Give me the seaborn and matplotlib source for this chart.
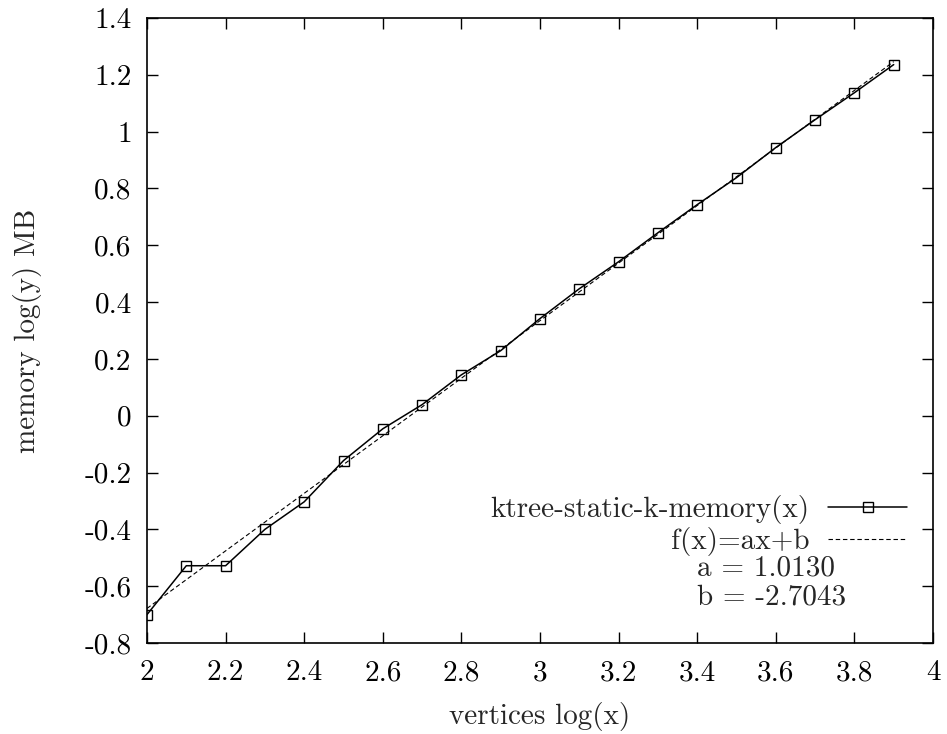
# ----- libraries
import matplotlib
matplotlib.use("Agg")
import matplotlib.pyplot as plt
import numpy as np
import pandas as pd
import seaborn as sns

# ----- data
vertices_log = [2.0, 2.1, 2.2, 2.3, 2.4, 2.5, 2.6, 2.7, 2.8, 2.9,
                3.0, 3.1, 3.2, 3.3, 3.4, 3.5, 3.6, 3.7, 3.8, 3.9]
memory_log = [-0.700, -0.528, -0.528, -0.400, -0.303, -0.158, -0.046, 0.039, 0.144, 0.229,
              0.342, 0.447, 0.542, 0.644, 0.743, 0.838, 0.944, 1.042, 1.137, 1.236]
fit_a = 1.0130
fit_b = -2.7043
fit_x = [2.0, 3.9]
x_ticks = [2, 2.2, 2.4, 2.6, 2.8, 3, 3.2, 3.4, 3.6, 3.8, 4]
y_ticks = [-0.8, -0.6, -0.4, -0.2, 0, 0.2, 0.4, 0.6, 0.8, 1, 1.2, 1.4]

FS = 21


def fmt(v):
    s = "{:g}".format(round(v, 2))
    return s


# ----- main
def draw():
    sns.set_theme(style="ticks")
    plt.rcParams['font.family'] = ['cmr10', 'DejaVu Serif']
    plt.rcParams['axes.unicode_minus'] = False
    plt.rcParams['mathtext.fontset'] = 'cm'

    fig = plt.figure(figsize=(9.47, 7.34), dpi=100)
    ax = fig.add_axes([147 / 947, 1 - 643 / 734, (933 - 147) / 947, (643 - 18) / 734])

    data = pd.DataFrame({"x": vertices_log, "y": memory_log})
    fit = pd.DataFrame({"x": fit_x, "y": [fit_a * v + fit_b for v in fit_x]})

    sns.lineplot(data=data, x="x", y="y", ax=ax, color="black", linewidth=1.1,
                 marker="s", markersize=7, markerfacecolor="none",
                 markeredgecolor="black", markeredgewidth=1.0,
                 label="ktree-static-k-memory(x)")
    sns.lineplot(data=fit, x="x", y="y", ax=ax, color="black", linewidth=0.8,
                 linestyle=(0, (4, 2.5)), label="f(x)=ax+b")

    ax.set_xlim(2, 4)
    ax.set_ylim(-0.8, 1.4)
    ax.set_xticks(x_ticks)
    ax.set_yticks(y_ticks)
    ax.set_xticklabels([fmt(v) for v in x_ticks])
    ax.set_yticklabels([fmt(v) for v in y_ticks])
    ax.tick_params(direction="in", length=8, width=1, top=True, right=True,
                   labelsize=FS, colors="black")
    ax.tick_params(axis="x", pad=12)
    ax.tick_params(axis="y", pad=11)
    for s in ax.spines.values():
        s.set_color("black")
        s.set_linewidth(1.2)

    ax.set_xlabel("vertices log(x)", fontsize=FS)
    ax.set_ylabel("memory log(y) MB", fontsize=FS)
    ax.xaxis.set_label_coords(0.5, (643 - 702) / 625)
    ax.yaxis.set_label_coords((42 - 147) / 786, 0.5)

    ax.legend(loc="upper right", bbox_to_anchor=(907 / 947, 1 - 495 / 734),
              bbox_transform=fig.transFigure, frameon=False,
              markerfirst=False, fontsize=FS, handlelength=2.7,
              handletextpad=0.65, labelspacing=0.1, borderaxespad=0,
              borderpad=0)
    ax.text(697 / 947, 1 - 568 / 734, "a = 1.0130", transform=fig.transFigure,
            fontsize=FS, va="center", ha="left")
    ax.text(697 / 947, 1 - 597 / 734, "b = -2.7043", transform=fig.transFigure,
            fontsize=FS, va="center", ha="left")

    fig.savefig("out.png", dpi=100)


# ----- start
if __name__ == "__main__":
    draw()
